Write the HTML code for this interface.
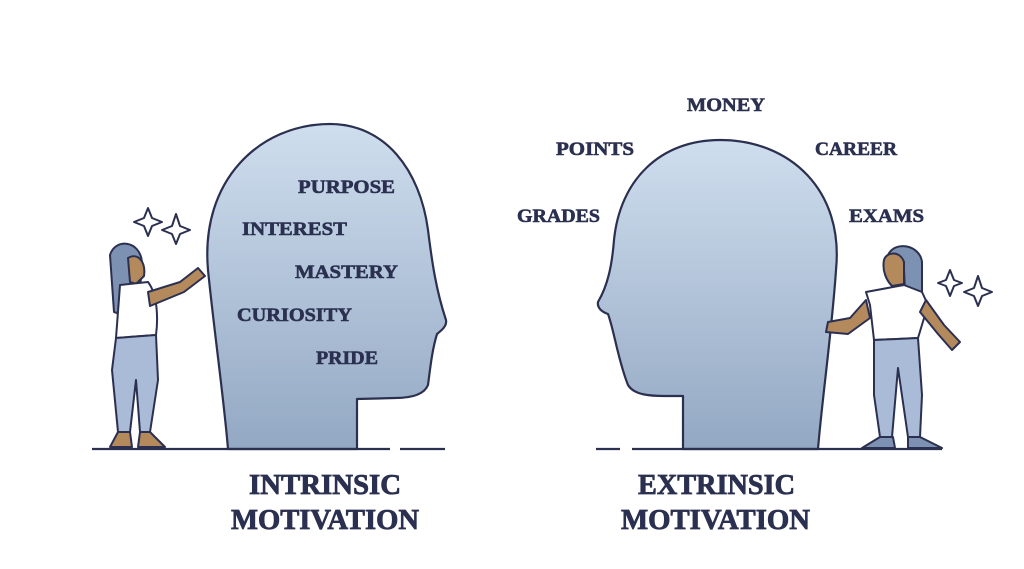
<!DOCTYPE html>
<html><head><style>body{margin:0;background:#fff}svg{display:block}</style></head><body>
<svg width="1024" height="569" viewBox="0 0 1024 569" xmlns="http://www.w3.org/2000/svg">
<defs><linearGradient id="g" x1="0" y1="0" x2="0" y2="1"><stop offset="0" stop-color="#cfdeee"/><stop offset="1" stop-color="#93a8c3"/></linearGradient></defs>
<g stroke="#2b3050" stroke-width="2.2" fill="url(#g)" stroke-linejoin="round">
<path d="M228 449 C224 400 214 330 208 270 C200 180 260 124 330 124 C385 124 420 170 428 230 C432 262 436 290 446 320 C447 326 442 330 437 334 C432 350 430 370 428 385 C424 395 410 398 395 398 L357 399 L357 449 Z"/>
<path d="M818 449 C822 400 832 330 836 270 C844 190 790 140 720 140 C660 140 620 180 614 240 C612 265 608 285 598 302 C597 308 602 312 608 314 C614 330 618 360 628 385 C634 395 650 396 665 396 L683 396 L683 449 Z"/>
</g>
<g stroke="#2b3050" stroke-width="2.2">
<line x1="92" y1="449" x2="390" y2="449"/><line x1="400" y1="449" x2="445" y2="449"/>
<line x1="596" y1="449" x2="620" y2="449"/><line x1="632" y1="449" x2="942" y2="449"/>
</g>
<g stroke="#2b3050" stroke-width="2" stroke-linejoin="round">
<path d="M110 255 C115 238 140 240 142 262 L138 320 L114 312 Z" fill="#7d92b3"/>
<path d="M128 258 C138 252 146 262 144 276 L136 284 L130 282 Z" fill="#b48a5c"/>
<path d="M120 285 L148 282 C158 295 158 320 156 335 L116 338 Z" fill="#fff"/>
<path d="M148 292 L180 282 L198 268 L205 276 L184 292 L150 306 Z" fill="#b48a5c"/>
<path d="M116 338 L156 335 L158 380 L150 432 L140 432 L136 380 L130 432 L118 432 L112 370 Z" fill="#a9bbd6"/>
<path d="M118 432 L130 432 L132 447 L110 447 Z M140 432 L150 432 L165 447 L138 447 Z" fill="#b48a5c"/>
<path d="M148 208 L152 218 L162 222 L152 226 L148 236 L144 226 L134 222 L144 218 Z M176 214 L180 226 L190 230 L180 234 L176 244 L172 234 L162 230 L172 226 Z" fill="#fff"/>
</g>
<g stroke="#2b3050" stroke-width="2" stroke-linejoin="round">
<path d="M888 255 C895 240 920 245 922 262 L922 310 L906 312 L904 270 Z" fill="#7d92b3"/>
<path d="M884 260 C886 252 900 250 904 262 L904 284 L892 286 C886 280 882 270 884 260 Z" fill="#b48a5c"/>
<path d="M866 292 L904 285 L922 292 L928 305 L918 338 L874 340 L870 305 Z" fill="#fff"/>
<path d="M866 300 L850 318 L828 322 L826 332 L848 334 L870 318 Z M926 300 L944 325 L960 342 L952 350 L938 334 L920 312 Z" fill="#b48a5c"/>
<path d="M874 340 L918 338 L922 395 L920 437 L908 437 L898 368 L892 437 L880 437 L874 395 Z" fill="#a9bbd6"/>
<path d="M880 437 L893 437 L895 448 L862 448 Z M908 437 L920 437 L942 448 L908 448 Z" fill="#7d92b3"/>
<path d="M950 270 L954 280 L962 283 L954 286 L950 296 L946 286 L938 283 L946 280 Z M978 276 L982 288 L992 292 L982 296 L978 306 L974 296 L964 292 L974 288 Z" fill="#fff"/>
</g>
<g font-family="Liberation Serif, serif" font-weight="bold" fill="#2b3050" stroke="#2b3050" stroke-width="0.6" font-size="19" lengthAdjust="spacingAndGlyphs">
<text x="298" y="193" textLength="97" lengthAdjust="spacingAndGlyphs">PURPOSE</text>
<text x="242" y="235" textLength="105" lengthAdjust="spacingAndGlyphs">INTEREST</text>
<text x="295" y="278" textLength="103" lengthAdjust="spacingAndGlyphs">MASTERY</text>
<text x="237" y="321" textLength="115" lengthAdjust="spacingAndGlyphs">CURIOSITY</text>
<text x="316" y="364" textLength="62" lengthAdjust="spacingAndGlyphs">PRIDE</text>
<text x="687" y="111" textLength="78" lengthAdjust="spacingAndGlyphs">MONEY</text>
<text x="556" y="155" textLength="78" lengthAdjust="spacingAndGlyphs">POINTS</text>
<text x="815" y="155" textLength="82" lengthAdjust="spacingAndGlyphs">CAREER</text>
<text x="517" y="222" textLength="83" lengthAdjust="spacingAndGlyphs">GRADES</text>
<text x="849" y="222" textLength="75" lengthAdjust="spacingAndGlyphs">EXAMS</text>
<g font-size="28" stroke-width="0.8">
<text x="249" y="494" textLength="152" lengthAdjust="spacingAndGlyphs">INTRINSIC</text>
<text x="231" y="529" textLength="188" lengthAdjust="spacingAndGlyphs">MOTIVATION</text>
<text x="638" y="494" textLength="157" lengthAdjust="spacingAndGlyphs">EXTRINSIC</text>
<text x="621" y="529" textLength="189" lengthAdjust="spacingAndGlyphs">MOTIVATION</text>
</g>
</g>
</svg>
</body></html>
